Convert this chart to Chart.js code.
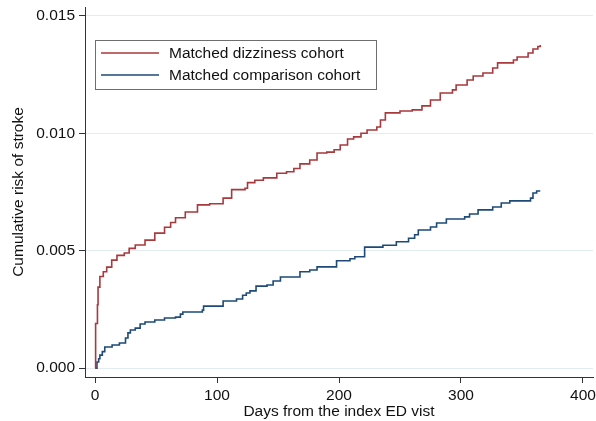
<!DOCTYPE html>
<html>
<head>
<meta charset="utf-8">
<script src="https://cdn.jsdelivr.net/npm/chart.js@4/dist/chart.umd.min.js"></script>
<style>
  html, body { margin: 0; padding: 0; background: #fff; }
  #wrap { width: 596px; height: 421px; position: relative; }
</style>
</head>
<body>
<div id="wrap"><canvas id="chart"></canvas></div>
<script>
// Kaplan-Meier style cumulative risk
const dizzinessDays = [0, 0.5, 2, 2.5, 4, 6.8, 9.6, 13.7, 18, 24, 28, 33, 41, 49, 57, 62, 66, 74, 84, 94,
  105, 112, 123, 125, 131, 138, 149, 157, 163, 168, 176, 182, 190, 196, 201, 207, 212, 218, 223, 231,
  234, 238, 250, 260, 268, 275, 283, 293, 296, 305, 310, 318, 326, 330, 343, 346, 355, 359, 363, 365];
const dizzinessRisk = [0, 0.0019, 0.0027, 0.00345, 0.0039, 0.0041, 0.0043, 0.0046, 0.0048, 0.0049, 0.0051,
  0.00524, 0.00545, 0.00575, 0.006, 0.0062, 0.0064, 0.00665, 0.00695, 0.007, 0.00724, 0.0076, 0.00766,
  0.0079, 0.008, 0.0081, 0.0083, 0.00836, 0.0085, 0.0087, 0.00886, 0.00916, 0.0092, 0.0093, 0.0095,
  0.00976, 0.00985, 0.01, 0.01014, 0.01027, 0.01057, 0.01087, 0.01095, 0.011, 0.01117, 0.01142, 0.01172,
  0.01185, 0.01206, 0.01227, 0.01244, 0.01257, 0.01278, 0.013, 0.01312, 0.01325, 0.01342, 0.01359,
  0.0137, 0.01376];

const comparisonDays = [0, 1.6, 3, 4, 6, 8, 14, 20, 25, 27, 29, 33, 37, 41, 49, 57, 66, 70, 72, 88, 89,
  105, 116, 121, 124, 127, 132, 141, 146, 152, 168, 176, 182, 198, 209, 213, 221, 236, 247, 257, 262,
  265, 275, 280, 288, 303, 307, 314, 326, 333, 340, 357, 359, 362, 365];
const comparisonRisk = [0, 0.00026, 0.0004, 0.00055, 0.0007, 0.0009, 0.00098, 0.00107, 0.00128, 0.0015,
  0.00162, 0.0017, 0.00188, 0.00196, 0.00205, 0.00213, 0.00217, 0.0023, 0.00239, 0.00247, 0.00264,
  0.00286, 0.00294, 0.0031, 0.0032, 0.00329, 0.00349, 0.00354, 0.00371, 0.00388, 0.0041, 0.00418,
  0.00431, 0.00457, 0.00466, 0.00474, 0.00515, 0.00523, 0.00538, 0.00553, 0.00568, 0.00588, 0.00601,
  0.00618, 0.00635, 0.00644, 0.00656, 0.00674, 0.00686, 0.00703, 0.00712, 0.00724, 0.00746, 0.00754,
  0.00754];

const xTicks = [0, 100, 200, 300, 400];
const yTicks = [0, 0.005, 0.01, 0.015];
const seriesLabels = ["Matched dizziness cohort", "Matched comparison cohort"];

const RED = "#a8393d";
const BLUE = "#1d4a78";
const FONT = "'Liberation Sans', Arial, Helvetica, sans-serif";
const SIZE = 15.5;

function toPoints(days, risk) {
  return days.map((d, i) => ({ x: d, y: risk[i] }));
}

// legend box drawn inside the plot, Stata style
const boxLegend = {
  id: "boxLegend",
  afterDraw(chart) {
    const ctx = chart.ctx;
    const left = 95, top = 40, width = 281, height = 49;
    ctx.save();
    ctx.fillStyle = "#fff";
    ctx.fillRect(left, top, width, height);
    ctx.strokeStyle = "#6e6e6e";
    ctx.lineWidth = 1;
    ctx.strokeRect(left + 0.5, top + 0.5, width, height);
    ctx.font = `${SIZE}px ${FONT}`;
    ctx.textBaseline = "middle";
    chart.data.datasets.forEach((ds, i) => {
      const y = top + 13 + i * 22;
      ctx.strokeStyle = ds.borderColor;
      ctx.lineWidth = 1.5;
      ctx.beginPath();
      ctx.moveTo(101, y);
      ctx.lineTo(159, y);
      ctx.stroke();
      ctx.fillStyle = "#111";
      ctx.fillText(ds.label, 169, y + 1);
    });
    ctx.restore();
  },
};

new Chart(document.getElementById("chart"), {
  type: "line",
  data: {
    datasets: [
      {
        label: seriesLabels[0],
        data: toPoints(dizzinessDays, dizzinessRisk),
        borderColor: RED,
        borderWidth: 1.6,
        stepped: true,
        pointRadius: 0,
        fill: false,
      },
      {
        label: seriesLabels[1],
        data: toPoints(comparisonDays, comparisonRisk),
        borderColor: BLUE,
        borderWidth: 1.6,
        stepped: true,
        pointRadius: 0,
        fill: false,
      },
    ],
  },
  options: {
    responsive: true,
    maintainAspectRatio: false,
    animation: false,
    layout: { padding: { left: 9, top: 7, right: 3, bottom: 0 } },
    plugins: {
      legend: { display: false },
      tooltip: { enabled: false },
    },
    scales: {
      x: {
        type: "linear",
        min: -8.2,
        max: 408.2,
        afterBuildTicks(axis) {
          axis.ticks = xTicks.map((v) => ({ value: v }));
        },
        afterFit(axis) {
          axis.height = 44;
          axis.paddingLeft = 0;
          axis.paddingRight = 0;
        },
        ticks: {
          color: "#111",
          font: { family: FONT, size: SIZE },
          padding: 3,
          maxRotation: 0,
          callback: (v) => String(v),
        },
        grid: {
          drawOnChartArea: false,
          tickColor: "#333",
          tickLength: 6,
        },
        border: { color: "#333", width: 1 },
        title: {
          display: true,
          text: "Days from the index ED vist",
          color: "#111",
          font: { family: FONT, size: SIZE },
          padding: 0,
        },
      },
      y: {
        type: "linear",
        min: -0.00038,
        max: 0.01538,
        afterBuildTicks(axis) {
          axis.ticks = yTicks.map((v) => ({ value: v }));
        },
        afterFit(axis) {
          axis.width = 76;
          axis.paddingTop = 0;
          axis.paddingBottom = 0;
        },
        ticks: {
          color: "#111",
          font: { family: FONT, size: SIZE },
          padding: 4,
          callback: (v) => Number(v).toFixed(3),
        },
        grid: {
          color: "#e2ecf1",
          lineWidth: 1,
          tickColor: "#333",
          tickLength: 6,
        },
        border: { color: "#333", width: 1 },
        title: {
          display: true,
          text: "Cumulative risk of stroke",
          color: "#111",
          font: { family: FONT, size: SIZE },
          padding: 0,
        },
      },
    },
  },
  plugins: [boxLegend],
});
</script>
</body>
</html>
